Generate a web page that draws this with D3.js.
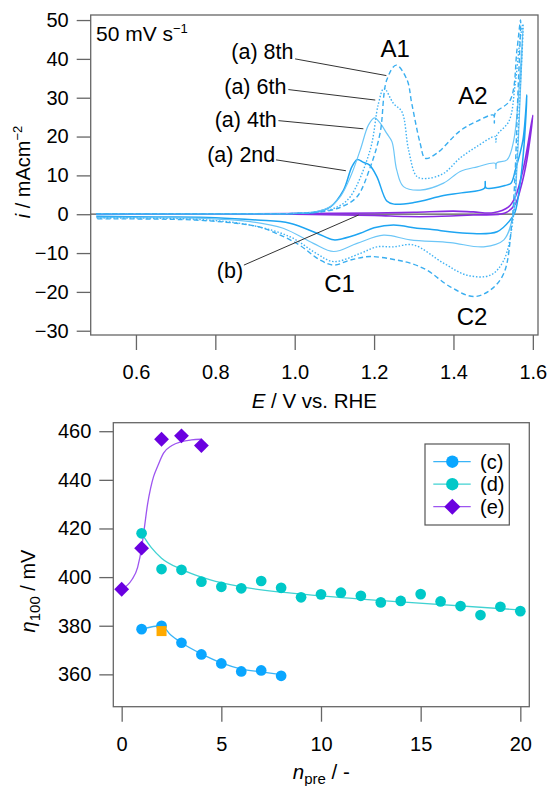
<!DOCTYPE html>
<html>
<head>
<meta charset="utf-8">
<script src="https://cdn.jsdelivr.net/npm/d3@7"></script>
<style>
  body { margin: 0; background: #fff; }
  svg { display: block; font-family: "Liberation Sans", Arial, sans-serif; }
  .tick line { stroke: #666; stroke-width: 1.3; }
  .tick text { fill: #000; font-size: 20px; }
</style>
</head>
<body>
<svg id="chart" width="550" height="786"></svg>
<script>
// ---- top panel: cyclic voltammograms (E / V, i / mA cm-2) ----
var cv2nd = [[0.5,0.1],[0.8,0.1],[1.0,0.2],[1.05,0.5],[1.09,1.9],[1.123,6.2],[1.144,12.2],[1.158,14.1],[1.172,13.4],
  [1.188,12.7],[1.207,9.7],[1.232,3.4],[1.25,2.6],[1.30,3.0],[1.375,4.8],[1.42,5.5],[1.478,6.7],[1.480,8.4],[1.482,6.8],
  [1.53,7.4],[1.545,8.0],[1.556,11.4],[1.575,19.1],[1.585,30.7],
  [1.578,18],[1.568,8],[1.555,0.5],[1.543,-1.5],[1.51,-4.5],[1.434,-4.9],[1.341,-3.9],[1.308,-3.6],[1.249,-2.8],
  [1.20,-3.5],[1.165,-4.9],[1.12,-6.3],[1.098,-6.6],[1.056,-4.9],[0.988,-2.3],[0.904,-1.5],[0.8,-0.9],[0.65,-0.7],[0.5,-0.5]];
var cv4th = [[0.5,0.1],[0.8,0.1],[1.0,0.2],[1.06,0.8],[1.09,2.0],[1.115,4.5],[1.14,9.5],[1.165,16.5],[1.186,23.0],
  [1.201,24.8],[1.215,23.5],[1.232,20.8],[1.245,18.7],[1.257,11.4],[1.274,7.1],[1.316,6.2],[1.375,8.0],[1.417,11.0],
  [1.46,12.2],[1.505,13.1],[1.507,11.8],[1.509,13.2],[1.535,14.0],[1.552,19.1],[1.569,38],[1.575,47.4],
  [1.568,30],[1.56,12],[1.551,0.2],[1.527,-6.6],[1.476,-8.4],[1.392,-7.3],[1.291,-6.6],[1.224,-5.4],[1.157,-7.5],
  [1.098,-9.6],[1.047,-7.5],[0.971,-3.6],[0.888,-1.9],[0.75,-1.0],[0.5,-0.8]];
var cv6th = [[0.5,0.1],[0.8,0.1],[1.0,0.2],[1.07,0.8],[1.11,2.0],[1.14,4.5],[1.19,16.5],[1.211,28.5],[1.225,32.4],
  [1.249,28.5],[1.27,26.4],[1.287,16.5],[1.308,9.7],[1.333,9.2],[1.375,10.5],[1.417,14.5],[1.46,17.5],[1.505,20.0],
  [1.507,18.5],[1.509,20.3],[1.54,24],[1.555,33],[1.568,45],[1.575,49],
  [1.567,30],[1.558,10],[1.551,-0.6],[1.527,-11.8],[1.493,-15.7],[1.434,-15.7],[1.375,-12.6],[1.299,-7.9],[1.249,-8.4],
  [1.207,-8.4],[1.165,-10.1],[1.098,-12.2],[1.055,-10.1],[0.988,-5.8],[0.888,-2.8],[0.75,-1.3],[0.5,-1.0]];
var cv8th = [[0.5,0.1],[0.8,0.1],[1.0,0.2],[1.08,0.8],[1.12,2.0],[1.157,4.5],[1.19,12],[1.215,20.8],[1.232,34.6],
  [1.256,38.4],[1.283,34.6],[1.295,28.5],[1.316,18.3],[1.329,14.4],[1.358,15.7],[1.417,21.5],[1.46,24],[1.501,25.5],
  [1.503,23.5],[1.505,26],[1.543,29.4],[1.56,42.3],[1.569,50],
  [1.562,30],[1.555,10],[1.547,-2.3],[1.527,-15.2],[1.493,-19.5],[1.451,-21.2],[1.392,-18.7],[1.333,-14.4],[1.291,-12.6],
  [1.257,-11.8],[1.19,-10.9],[1.14,-11.8],[1.098,-13.1],[1.064,-11.8],[1.005,-7.5],[0.921,-3.6],[0.888,-2.8],[0.75,-1.5],[0.5,-1.2]];
var cvB = [[0.5,0.1],[1.0,0.15],[1.2,0.3],[1.3,0.5],[1.4,0.8],[1.45,0.6],[1.5,0.4],[1.539,1.9],[1.556,4.5],[1.577,12.2],[1.6,25.5],
  [1.585,14],[1.57,7],[1.555,2.5],[1.53,0.3],[1.45,-0.2],[1.35,-0.6],[1.28,-0.6],[1.2,-0.3],[1.0,0.0],[0.5,0.0]];

var eTicks = [0.6, 0.8, 1.0, 1.2, 1.4, 1.6];
var iTicks = [-30, -20, -10, 0, 10, 20, 30, 40, 50];

// ---- bottom panel: overpotential vs. number of pre-cycles ----
var nC = [1, 2, 3, 4, 5, 6, 7, 8];
var etaC = [378.6, 380.0, 373.0, 368.2, 364.5, 361.2, 361.6, 359.4];
var nD = [1, 2, 3, 4, 5, 6, 7, 8, 9, 10, 11, 12, 13, 14, 15, 16, 17, 18, 19, 20];
var etaD = [418.0, 403.3, 403.0, 398.1, 396.0, 395.4, 398.4, 395.6, 391.7, 392.9, 393.6, 392.3, 389.6, 390.2, 393.0, 390.0, 388.1, 384.4, 387.8, 386.0];
var nE = [0, 1, 2, 3, 4];
var etaE = [395.0, 411.9, 456.7, 458.1, 454.1];
var nSquare = [2];
var etaSquare = [377.8];
// guide curves as they appear in the figure
var fitCx = [1, 2, 2.45, 3, 4, 5, 6, 7, 8];
var fitCy = [378.6, 380.0, 376.3, 373.0, 368.4, 364.7, 362.2, 361.0, 359.9];
var fitDx = [1, 1.5, 2, 3, 4, 5, 6, 8, 10, 14, 20];
var fitDy = [418.0, 412.0, 407.8, 403.2, 400.0, 397.7, 396.0, 393.8, 392.3, 389.8, 386.5];
var fitEx = [0, 0.5, 0.8, 1, 1.15, 1.3, 1.45, 1.6, 1.8, 2.1, 2.5, 3, 3.5, 4];
var fitEy = [395.0, 398.8, 404.0, 412.0, 421.0, 430.0, 436.5, 441.3, 445.5, 451.0, 454.0, 455.7, 456.4, 456.7];
var nTicks = [0, 5, 10, 15, 20];
var etaTicks = [360, 380, 400, 420, 440, 460];

var svg = d3.select("#chart");
var frameColor = "#666";

// ===================== top panel =====================
var box1 = { left: 90.7, right: 538, top: 15, bottom: 335 };
var x1 = d3.scaleLinear().domain([0.486, 1.613]).range([box1.left, box1.right]);
var y1 = d3.scaleLinear().domain([-31.1, 51.3]).range([box1.bottom, box1.top]);

var g1 = svg.append("g");

g1.append("g")
  .attr("transform", "translate(0," + box1.bottom + ")")
  .call(d3.axisBottom(x1).tickValues(eTicks).tickFormat(d3.format(".1f")).tickSize(15).tickPadding(15).tickSizeOuter(0))
  .call(function(a) { a.select(".domain").remove(); });
g1.append("g")
  .attr("transform", "translate(" + box1.left + ",0)")
  .call(d3.axisLeft(y1).tickValues(iTicks).tickSize(14).tickPadding(8).tickSizeOuter(0))
  .call(function(a) { a.select(".domain").remove(); });

// zero line
g1.append("line")
  .attr("x1", x1(0.486)).attr("x2", x1(1.6))
  .attr("y1", y1(0)).attr("y2", y1(0))
  .attr("stroke", "#555").attr("stroke-width", 1.2);

var cvLine = d3.line()
  .x(function(d) { return x1(d[0]); })
  .y(function(d) { return y1(d[1]); })
  .curve(d3.curveCatmullRom.alpha(0.5));

var cvSeries = [
  { pts: cvB,   color: "#8a2be2", width: 1.6, dash: null },
  { pts: cv2nd, color: "#1ea5f2", width: 1.5, dash: null },
  { pts: cv4th, color: "#6cc6f7", width: 1.2, dash: null },
  { pts: cv6th, color: "#3fb2f4", width: 1.4, dash: "1.5,1.8" },
  { pts: cv8th, color: "#3aaef0", width: 1.4, dash: "5,3" }
];
cvSeries.forEach(function(s) {
  g1.append("path")
    .attr("d", cvLine(s.pts))
    .attr("fill", "none")
    .attr("stroke", s.color)
    .attr("stroke-width", s.width)
    .attr("stroke-dasharray", s.dash);
});

// annotations
var cvLabels = [
  { text: "(a) 8th", at: [0.997, 41.8], from: [1.001, 40.0], to: [1.231, 35.7] },
  { text: "(a) 6th", at: [0.979, 33.0], from: [0.984, 32.1], to: [1.203, 29.4] },
  { text: "(a) 4th", at: [0.955, 24.4], from: [0.959, 24.1], to: [1.173, 22.0] },
  { text: "(a) 2nd", at: [0.951, 15.5], from: [0.953, 14.0], to: [1.129, 11.2] }
];
cvLabels.forEach(function(l) {
  g1.append("line")
    .attr("x1", x1(l.from[0])).attr("y1", y1(l.from[1]))
    .attr("x2", x1(l.to[0])).attr("y2", y1(l.to[1]))
    .attr("stroke", "#333").attr("stroke-width", 1);
  g1.append("text")
    .attr("x", x1(l.at[0])).attr("y", y1(l.at[1]))
    .attr("dy", "0.35em")
    .attr("text-anchor", "end")
    .attr("font-size", 21.5)
    .text(l.text);
});
g1.append("line")
  .attr("x1", x1(0.872)).attr("y1", y1(-13.1))
  .attr("x2", x1(1.161)).attr("y2", y1(-0.2))
  .attr("stroke", "#333").attr("stroke-width", 1);
g1.append("text")
  .attr("x", x1(0.837)).attr("y", y1(-14.4)).attr("dy", "0.35em")
  .attr("text-anchor", "middle").attr("font-size", 21.5).text("(b)");

var peakLabels = [["A1", 1.253, 42.7], ["A2", 1.449, 30.7], ["C1", 1.113, -17.8], ["C2", 1.447, -26.4]];
peakLabels.forEach(function(p) {
  g1.append("text")
    .attr("x", x1(p[1])).attr("y", y1(p[2])).attr("dy", "0.36em")
    .attr("text-anchor", "middle").attr("font-size", 24).text(p[0]);
});

var rate = g1.append("text").attr("x", 96).attr("y", 41).attr("font-size", 21);
rate.append("tspan").text("50 mV s");
rate.append("tspan").attr("dy", -8).attr("font-size", 13).text("\u22121");

g1.append("rect")
  .attr("x", box1.left).attr("y", box1.top)
  .attr("width", box1.right - box1.left).attr("height", box1.bottom - box1.top)
  .attr("fill", "none").attr("stroke", frameColor).attr("stroke-width", 1.3);

var xt1 = g1.append("text").attr("x", (box1.left + box1.right) / 2).attr("y", 408)
  .attr("text-anchor", "middle").attr("font-size", 20.5);
xt1.append("tspan").attr("font-style", "italic").text("E");
xt1.append("tspan").text(" / V vs. RHE");

var yt1 = g1.append("text")
  .attr("transform", "translate(30," + 172 + ") rotate(-90)")
  .attr("text-anchor", "middle").attr("font-size", 20);
yt1.append("tspan").attr("font-style", "italic").text("i");
yt1.append("tspan").text(" / mAcm");
yt1.append("tspan").attr("dy", -8).attr("font-size", 13).text("\u22122");

// ===================== bottom panel =====================
var box2 = { left: 113.3, right: 529.3, top: 422.7, bottom: 706.7 };
var x2 = d3.scaleLinear().domain([-0.42, 20.45]).range([box2.left, box2.right]);
var y2 = d3.scaleLinear().domain([346.7, 463.5]).range([box2.bottom, box2.top]);

var g2 = svg.append("g");
g2.append("g")
  .attr("transform", "translate(0," + box2.bottom + ")")
  .call(d3.axisBottom(x2).tickValues(nTicks).tickSize(15).tickPadding(15).tickSizeOuter(0))
  .call(function(a) { a.select(".domain").remove(); });
g2.append("g")
  .attr("transform", "translate(" + box2.left + ",0)")
  .call(d3.axisLeft(y2).tickValues(etaTicks).tickSize(14).tickPadding(8).tickSizeOuter(0))
  .call(function(a) { a.select(".domain").remove(); });

var fitLine = d3.line()
  .x(function(d) { return x2(d[0]); })
  .y(function(d) { return y2(d[1]); })
  .curve(d3.curveMonotoneX);

var groups = [
  { key: "(c)", fx: fitCx, fy: fitCy, px: nC, py: etaC, line: "#3ab4f7", fill: "#0aa6ff", shape: "circle" },
  { key: "(d)", fx: fitDx, fy: fitDy, px: nD, py: etaD, line: "#40d2d2", fill: "#00c8c8", shape: "circle" },
  { key: "(e)", fx: fitEx, fy: fitEy, px: nE, py: etaE, line: "#9d55f0", fill: "#6a00e0", shape: "diamond" }
];

var circleSym = d3.symbol().type(d3.symbolCircle).size(90);
var diamondSym = d3.symbol().type(d3.symbolSquare).size(110);

groups.forEach(function(gr) {
  g2.append("path")
    .attr("d", fitLine(d3.zip(gr.fx, gr.fy)))
    .attr("fill", "none")
    .attr("stroke", gr.line)
    .attr("stroke-width", 1.3);
});
groups.forEach(function(gr) {
  var pts = d3.zip(gr.px, gr.py);
  g2.selectAll(null).data(pts).enter().append("path")
    .attr("d", gr.shape === "diamond" ? diamondSym() : circleSym())
    .attr("transform", function(d) {
      return "translate(" + x2(d[0]) + "," + y2(d[1]) + ")" + (gr.shape === "diamond" ? " rotate(45)" : "");
    })
    .attr("fill", gr.fill);
});
g2.selectAll(null).data(d3.zip(nSquare, etaSquare)).enter().append("rect")
  .attr("x", function(d) { return x2(d[0]) - 5; })
  .attr("y", function(d) { return y2(d[1]) - 5; })
  .attr("width", 10).attr("height", 10)
  .attr("fill", "#ffaa00");

g2.append("rect")
  .attr("x", box2.left).attr("y", box2.top)
  .attr("width", box2.right - box2.left).attr("height", box2.bottom - box2.top)
  .attr("fill", "none").attr("stroke", frameColor).attr("stroke-width", 1.3);

// legend
var lg = g2.append("g").attr("transform", "translate(425,444)");
lg.append("rect").attr("width", 84.3).attr("height", 81)
  .attr("fill", "#fff").attr("stroke", "#555").attr("stroke-width", 1.2);
groups.forEach(function(gr, k) {
  var yy = 17.7 + k * 22.5;
  lg.append("line").attr("x1", 8.3).attr("x2", 45.7).attr("y1", yy).attr("y2", yy)
    .attr("stroke", gr.line).attr("stroke-width", 1.3);
  lg.append("path")
    .attr("d", gr.shape === "diamond" ? d3.symbol().type(d3.symbolSquare).size(130)() : d3.symbol().type(d3.symbolCircle).size(120)())
    .attr("transform", "translate(27.3," + yy + ")" + (gr.shape === "diamond" ? " rotate(45)" : ""))
    .attr("fill", gr.fill);
  lg.append("text").attr("x", 55).attr("y", yy).attr("dy", "0.35em")
    .attr("font-size", 20).text(gr.key);
});

var xt2 = g2.append("text").attr("x", (box2.left + box2.right) / 2).attr("y", 779)
  .attr("text-anchor", "middle").attr("font-size", 20.5);
xt2.append("tspan").attr("font-style", "italic").text("n");
xt2.append("tspan").attr("dy", 5).attr("font-size", 15).text("pre");
xt2.append("tspan").attr("dy", -5).text(" / -");

var yt2 = g2.append("text")
  .attr("transform", "translate(35," + 591 + ") rotate(-90)")
  .attr("text-anchor", "middle").attr("font-size", 20);
yt2.append("tspan").attr("font-style", "italic").text("\u03b7");
yt2.append("tspan").attr("dy", 5).attr("font-size", 15).text("100");
yt2.append("tspan").attr("dy", -5).text(" / mV");
</script>
</body>
</html>
